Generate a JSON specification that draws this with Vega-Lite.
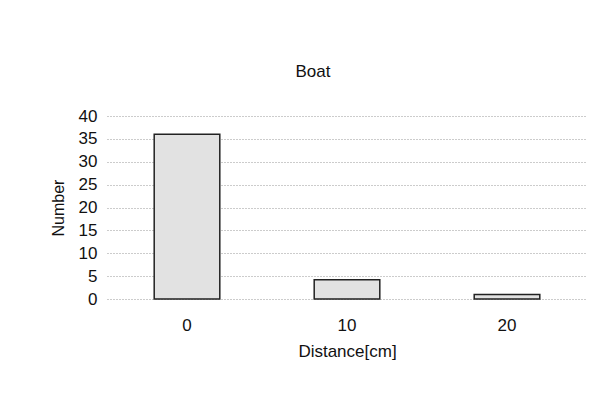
{
  "$schema": "https://vega.github.io/schema/vega-lite/v6.json",
  "width": 480,
  "height": 183,
  "autosize": {"type": "none"},
  "padding": {"left": 107, "top": 116, "right": 27, "bottom": 108},
  "background": "white",
  "title": {"text": "Boat", "font": "Liberation Sans", "fontSize": 17, "fontWeight": "normal", "color": "#111", "offset": 26, "anchor": "middle", "dx": -34},
  "data": {"values": [
    {"distance": "0", "number": 36},
    {"distance": "10", "number": 4.2},
    {"distance": "20", "number": 1}
  ]},
  "mark": {"type": "bar", "fill": "#e2e2e2", "stroke": "#222", "strokeWidth": 1.5},
  "encoding": {
    "x": {"field": "distance", "type": "nominal", "sort": null,
      "scale": {"paddingInner": 0.59, "paddingOuter": 0.295},
      "axis": {"title": "Distance[cm]", "labelAngle": 0, "domain": false, "ticks": false, "labelPadding": 18, "titlePadding": 10, "labelFont": "Liberation Sans", "labelFontSize": 17, "labelColor": "#111", "titleFont": "Liberation Sans", "titleFontSize": 17, "titleFontWeight": "normal", "titleColor": "#111"}},
    "y": {"field": "number", "type": "quantitative",
      "scale": {"domain": [0, 40], "nice": false},
      "axis": {"title": "Number", "values": [0,5,10,15,20,25,30,35,40], "domain": false, "ticks": false, "labelPadding": 10, "titlePadding": 12, "gridColor": "#999", "gridDash": [1, 2], "gridWidth": 1, "labelFont": "Liberation Sans", "labelFontSize": 17, "labelColor": "#111", "titleFont": "Liberation Sans", "titleFontSize": 16, "titleFontWeight": "normal", "titleColor": "#111"}}
  },
  "config": {"view": {"stroke": null}}
}
